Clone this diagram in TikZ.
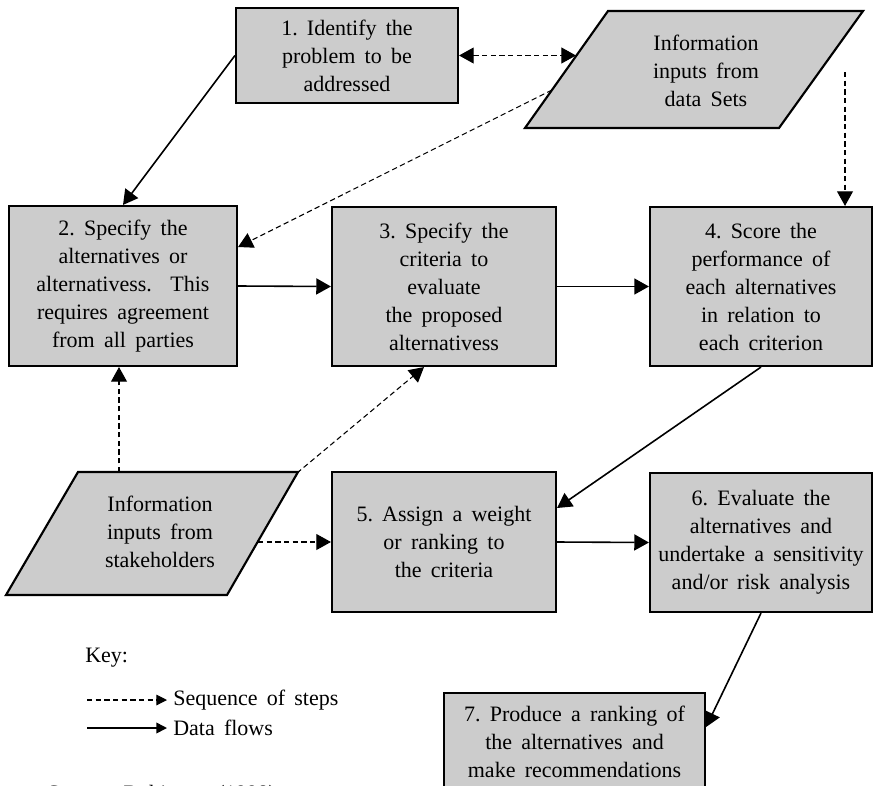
\documentclass[tikz,border=0pt]{standalone}
\usepackage{fontspec}
\setmainfont{Liberation Serif}
\usetikzlibrary{arrows.meta,calc}
\definecolor{boxgray}{RGB}{204,204,204}
\newcommand\diagfont{\fontsize{16.5}{21}\selectfont\frenchspacing\spaceskip=0.42em plus 0.1em minus 0.05em\relax}
\tikzset{
  stepbox/.style={draw, line width=1.6pt, fill=boxgray, align=center, inner sep=0pt, font=\diagfont},
  inputshape/.style={draw, line width=1.6pt, fill=boxgray},
  label/.style={inner sep=0pt, font=\diagfont, align=center},
  flow/.style={-{Triangle[length=11pt,width=12pt]}, line width=1.2pt},
  seq/.style={-{Triangle[length=11pt,width=12pt]}, line width=0.8pt, dash pattern=on 4pt off 2.5pt},
  keytip/.style={-{Triangle[length=8pt,width=8pt]}},
}
\begin{document}
\begin{tikzpicture}[x=0.75pt, y=-0.75pt]
  \useasboundingbox (0,0) rectangle (873,785);
  \clip (0,0) rectangle (873,785);

  % process steps
  \node[stepbox, minimum width=166.5pt, minimum height=71.25pt] (b1) at (347,55.5)
    {1. Identify the\\problem to be\\addressed};
  \node[stepbox, minimum width=171pt, minimum height=120pt] (b2) at (123,286)
    {2. Specify the\\alternatives or\\alternativess.\ \ This\\requires agreement\\from all parties};
  \node[stepbox, minimum width=168pt, minimum height=119.25pt] (b3) at (444,286.5)
    {3. Specify the\\criteria to\\evaluate\\the proposed\\alternativess};
  \node[stepbox, minimum width=166.5pt, minimum height=119.25pt] (b4) at (761,286.5)
    {4. Score the\\performance of\\each alternatives\\in relation to\\each criterion};
  \node[stepbox, minimum width=168pt, minimum height=105pt] (b5) at (444,542)
    {5. Assign a weight\\or ranking to\\the criteria};
  \node[stepbox, minimum width=166.5pt, minimum height=104.25pt] (b6) at (761,542.5)
    {6. Evaluate the\\alternatives and\\undertake a sensitivity\\and/or risk analysis};
  \node[stepbox, minimum width=195.75pt, minimum height=73.5pt] (b7) at (574.5,742)
    {7. Produce a ranking of\\the alternatives and\\make recommendations};

  % information inputs (parallelograms)
  \draw[inputshape] (608,11) -- (863,11) -- (779,128) -- (525,128) -- cycle;
  \node[label] (ds) at (706,71) {Information\\inputs from\\data Sets};
  \coordinate (dsA) at (576,55.5);
  \coordinate (dsB) at (552,90);
  \coordinate (dsC) at (845,72);

  \draw[inputshape] (78,472) -- (298,472) -- (227,595) -- (6,595) -- cycle;
  \node[label] (sk) at (160,532) {Information\\inputs from\\stakeholders};
  \coordinate (skT) at (119,472);
  \coordinate (skR) at (258,542);
  \coordinate (skC) at (297,473);

  % data flows
  \draw[flow] (b1.west) -- (b2.north);
  \draw[flow] (b2.east) -- (b3.west);
  \draw[flow] (b3.east) -- (b4.west);
  \draw[flow] (b4.south) -- ($(b5.east)+(0,-34)$);
  \draw[flow] (b5.east) -- (b6.west);
  \draw[flow] (b6.south) -- ($(b7.east)+(0,-15)$);

  % sequence of steps
  \draw[seq, {Triangle[length=11pt,width=12pt]}-{Triangle[length=11pt,width=12pt]}] (b1.east) -- (dsA);
  \draw[seq] (dsB) -- ($(b2.east)+(0,-39)$);
  \draw[seq] (dsC) -- (dsC |- b4.north);
  \draw[seq] (skT) -- (skT |- b2.south);
  \draw[seq] (skC) -- ($(b3.south)+(-20,0)$);
  \draw[seq] (skR) -- (b5.west);

  % key
  \node[label, anchor=base west] (key) at (85,662) {Key:};
  \coordinate (k1a) at (87,700);
  \coordinate (k1b) at (167,700);
  \draw[seq, keytip] (k1a) -- (k1b);
  \node[label, anchor=base west] (k1t) at (173,705) {Sequence of steps};
  \coordinate (k2a) at (87,728);
  \coordinate (k2b) at (167,728);
  \draw[flow, keytip] (k2a) -- (k2b);
  \node[label, anchor=base west] (k2t) at (173,735) {Data flows};

  % source line
  \node[label, anchor=base west] (src) at (47,800) {Source: Robinson (1998)};
\end{tikzpicture}
\end{document}
